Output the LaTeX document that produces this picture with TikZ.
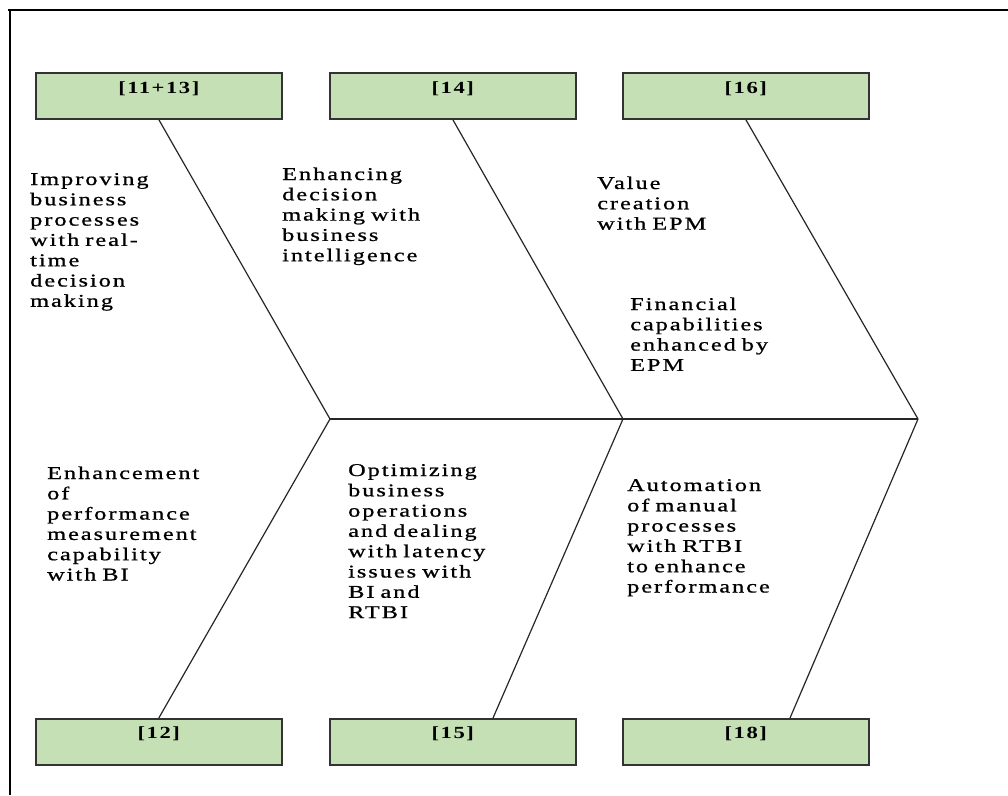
\documentclass[tikz,border=0pt]{standalone}
\usepackage{fontspec}
\setmainfont{Liberation Serif}
\newfontfamily\spaced{Liberation Serif}[FakeStretch=1.35, LetterSpace=11, FakeBold=0.9]
\newfontfamily\spacedbf{Liberation Serif Bold}[FakeStretch=1.33, LetterSpace=9]
\usetikzlibrary{calc}
\definecolor{boxfill}{HTML}{C5E0B4}
\definecolor{boxline}{HTML}{333333}
\tikzset{
  x=1pt, y=-1pt,
  refbox/.style={draw=boxline, line width=1.6pt, fill=boxfill, minimum width=246pt,
    minimum height=46pt, inner sep=0pt, anchor=north west},
  reftag/.style={anchor=base, inner sep=0pt, font=\spacedbf\fontsize{17}{20}\selectfont},
  cause/.style={anchor=base west, inner sep=0pt, text width=220pt, align=left,
    font=\spaced\fontsize{18}{20.3}\selectfont},
  bone/.style={draw=black!85, line width=1.2pt},
  frameline/.style={draw=black, line width=2.8pt}
}
\begin{document}
\begin{tikzpicture}
\useasboundingbox (0,0) rectangle (1008,795);
% outer frame (top and left edges)
\coordinate (ftl) at (10,10);
\coordinate (ftr) at (1008,10);
\coordinate (fbl) at (10,795);
\draw[frameline] ($(ftl)+(-2,0)$) -- (ftr);
\draw[frameline] ($(ftl)+(0,-1)$) -- (fbl);

% reference boxes
\node[refbox] (b1) at (35,72) {};
\node[refbox] (b2) at (329,72) {};
\node[refbox] (b3) at (622,72) {};
\node[refbox] (b4) at (35,718) {};
\node[refbox] (b5) at (329,718) {};
\node[refbox] (b6) at (622,718) {};

\node[reftag] (l1) at ($(b1.north)+(0,21)$) {[11+13]};
\node[reftag] (l2) at ($(b2.north)+(0,21)$) {[14]};
\node[reftag] (l3) at ($(b3.north)+(0,21)$) {[16]};
\node[reftag] (l4) at ($(b4.north)+(0,20)$) {[12]};
\node[reftag] (l5) at ($(b5.north)+(0,20)$) {[15]};
\node[reftag] (l6) at ($(b6.north)+(0,20)$) {[18]};

% spine joints
\coordinate (j1) at (330,419);
\coordinate (j2) at (623,419);
\coordinate (j3) at (918,419);
\coordinate (e5) at (493,718);
\coordinate (e6) at (790,718);

% spine
\draw[bone] (j1) -- (j2) -- (j3);

% upper bones
\draw[bone] (b1.south) -- (j1);
\draw[bone] (b2.south) -- (j2);
\draw[bone] (b3.south) -- (j3);
% lower bones
\draw[bone] (j1) -- (b4.north);
\draw[bone] (j2) -- (e5);
\draw[bone] (j3) -- (e6);

% causes
\node[cause] (t1) at (30,185) {Improving\\business\\processes\\with real-\\time\\decision\\making};
\node[cause] (t2) at (282,180) {Enhancing\\decision\\making with\\business\\intelligence};
\node[cause] (t3) at (597,189) {Value\\creation\\with EPM};
\node[cause] (t4) at (630,310) {Financial\\capabilities\\enhanced by\\EPM};
\node[cause] (t5) at (47,479) {Enhancement\\of\\performance\\measurement\\capability\\with BI};
\node[cause] (t6) at (348,476) {Optimizing\\business\\operations\\and dealing\\with latency\\issues with\\BI and\\RTBI};
\node[cause] (t7) at (627,491) {Automation\\of manual\\processes\\with RTBI\\to enhance\\performance};
\end{tikzpicture}
\end{document}
